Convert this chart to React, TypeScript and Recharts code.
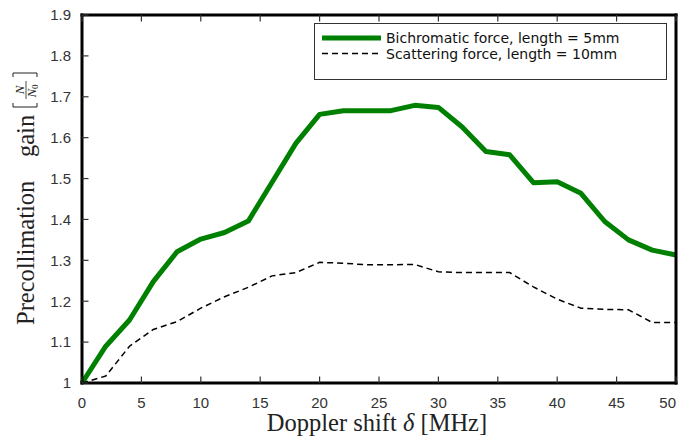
import { LineChart, Line, XAxis, YAxis, Legend } from "recharts";

const dopplerShift = [0, 2, 4, 6, 8, 10, 12, 14, 16, 18, 20, 22, 24, 26, 28, 30, 32, 34, 36, 38, 40, 42, 44, 46, 48, 50];
const bichromatic = [1.0, 1.09, 1.154, 1.248, 1.321, 1.352, 1.368, 1.396, 1.491, 1.586, 1.657, 1.666, 1.666, 1.666, 1.679, 1.674, 1.626, 1.566, 1.558, 1.49, 1.492, 1.464, 1.395, 1.35, 1.325, 1.313];
const scattering = [1.0, 1.017, 1.09, 1.131, 1.15, 1.183, 1.211, 1.234, 1.262, 1.27, 1.295, 1.293, 1.289, 1.289, 1.29, 1.272, 1.27, 1.27, 1.27, 1.235, 1.205, 1.183, 1.18, 1.179, 1.148, 1.148];
const xTicks = [0, 5, 10, 15, 20, 25, 30, 35, 40, 45, 50];
const yTicks = [1, 1.1, 1.2, 1.3, 1.4, 1.5, 1.6, 1.7, 1.8, 1.9];
const seriesNames = ["Bichromatic force, length = 5mm", "Scattering force, length = 10mm"];

const chartData = dopplerShift.map((d, i) => ({
  delta: d,
  bichromatic: bichromatic[i],
  scattering: scattering[i],
}));

const tickFont = { fontFamily: "'Liberation Sans', Arial, sans-serif", fontSize: 15, fill: "#333" };
const labelFont = "'Liberation Serif', 'Times New Roman', serif";
const frame = { stroke: "#000", strokeWidth: 3, strokeLinecap: "square" as const };
const TICK = 6.5;
const tickStroke = "#333";

// ticks point inward, so each axis gets tickSize 0 and draws its own mark
const BottomTick = ({ x, y, payload }: any) => {
  const last = payload.value === 50;
  return (
    <g>
      <path d={`M${x},${y}L${x},${y - TICK}`} stroke={tickStroke} strokeWidth={1.2} fill="none" />
      <text x={x} y={y + 14} dy="0.71em" textAnchor={last ? "end" : "middle"} {...tickFont}>
        {payload.value}
      </text>
    </g>
  );
};

const TopTick = ({ x, y }: any) => (
  <path d={`M${x},${y}L${x},${y + TICK}`} stroke={tickStroke} strokeWidth={1.2} fill="none" />
);

const LeftTick = ({ x, y, payload }: any) => (
  <g>
    <path d={`M${x},${y}L${x + TICK},${y}`} stroke={tickStroke} strokeWidth={1.2} fill="none" />
    <text x={x - 11} y={y} dy="0.355em" textAnchor="end" {...tickFont}>
      {payload.value}
    </text>
  </g>
);

const RightTick = ({ x, y }: any) => (
  <path d={`M${x},${y}L${x - TICK},${y}`} stroke={tickStroke} strokeWidth={1.2} fill="none" />
);

const YLabel = () => (
  <g transform="translate(34, 325) rotate(-90)" fill="#222" fontFamily={labelFont}>
    <text x={0} y={0} fontSize={24.5}>Precollimation</text>
    <text x={168} y={0} fontSize={24.5}>gain</text>
    <path d="M222,-21 L218,-21 L218,3 L222,3" stroke="#222" fill="none" strokeWidth={1} />
    <text x={235} y={-10} fontSize={13} fontStyle="italic" textAnchor="middle">N</text>
    <line x1={226} x2={244} y1={-8} y2={-8} stroke="#222" strokeWidth={0.8} />
    <text x={234} y={2} fontSize={13} fontStyle="italic" textAnchor="middle">
      N<tspan fontSize={9} fontStyle="normal" dy={2}>0</tspan>
    </text>
    <path d="M248,-21 L252,-21 L252,3 L248,3" stroke="#222" fill="none" strokeWidth={1} />
  </g>
);

const XLabel = () => (
  <text x={377} y={431} textAnchor="middle" fontFamily={labelFont} fontSize={24.5} fill="#222">
    Doppler shift <tspan fontStyle="italic">δ</tspan> [MHz]
  </text>
);

const LegendBox = () => (
  <div style={{ width: 353, height: 57, border: "1px solid #333", background: "#fff", boxSizing: "border-box" }}>
    <svg width={351} height={55} style={{ display: "block" }}>
      <line x1={7} x2={66} y1={14} y2={14} stroke="#008000" strokeWidth={5} />
      <text x={71} y={19} fontFamily="'DejaVu Sans', sans-serif" fontSize={14} fill="#111">{seriesNames[0]}</text>
      <line x1={7} x2={66} y1={29.5} y2={29.5} stroke="#000" strokeWidth={1.5} strokeDasharray="6 4" />
      <text x={71} y={35} fontFamily="'DejaVu Sans', sans-serif" fontSize={14} fill="#111">{seriesNames[1]}</text>
    </svg>
  </div>
);

export default function App() {
  return (
    <div style={{ width: 690, height: 437, background: "#fff" }}>
      <style>{"body{margin:0}"}</style>
      <LineChart width={690} height={437} data={chartData} margin={{ top: 0, right: 0, bottom: 0, left: 0 }}>
        <XAxis
          xAxisId="bottom"
          dataKey="delta"
          type="number"
          domain={[0, 50]}
          ticks={xTicks}
          interval={0}
          height={54}
          axisLine={frame}
          tickLine={false}
          tickSize={0}
          tickMargin={0}
          tick={<BottomTick />}
          label={<XLabel />}
        />
        <XAxis
          xAxisId="top"
          orientation="top"
          dataKey="delta"
          type="number"
          domain={[0, 50]}
          ticks={xTicks}
          interval={0}
          height={15}
          axisLine={frame}
          tickLine={false}
          tickSize={0}
          tickMargin={0}
          tick={<TopTick />}
        />
        <YAxis
          yAxisId="left"
          type="number"
          domain={[1, 1.9]}
          ticks={yTicks}
          interval={0}
          width={82}
          axisLine={frame}
          tickLine={false}
          tickSize={0}
          tickMargin={0}
          tick={<LeftTick />}
          label={<YLabel />}
        />
        <YAxis
          yAxisId="right"
          orientation="right"
          type="number"
          domain={[1, 1.9]}
          ticks={yTicks}
          interval={0}
          width={14}
          axisLine={frame}
          tickLine={false}
          tickSize={0}
          tickMargin={0}
          tick={<RightTick />}
        />
        <Legend
          layout="vertical"
          align="center"
          verticalAlign="middle"
          content={<LegendBox />}
          wrapperStyle={{ left: 314, top: 23, width: 353, height: 57 }}
        />
        <Line
          xAxisId="bottom"
          yAxisId="left"
          type="linear"
          dataKey="scattering"
          name={seriesNames[1]}
          stroke="#000"
          strokeWidth={1.5}
          strokeDasharray="6 4"
          dot={false}
          isAnimationActive={false}
        />
        <Line
          xAxisId="bottom"
          yAxisId="left"
          type="linear"
          dataKey="bichromatic"
          name={seriesNames[0]}
          stroke="#008000"
          strokeWidth={5}
          strokeLinejoin="round"
          dot={false}
          isAnimationActive={false}
        />
      </LineChart>
    </div>
  );
}
